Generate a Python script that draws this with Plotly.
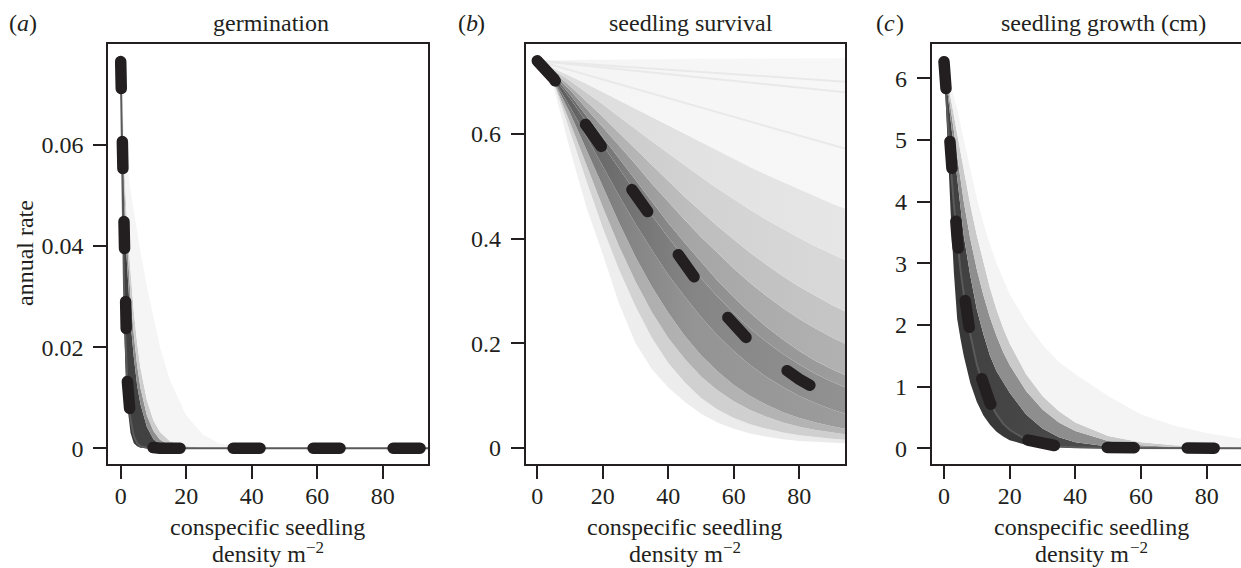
import plotly.graph_objects as go

# ---------------- data ----------------
x_ticks = [0, 20, 40, 60, 80]

# (a) germination
a_x = [0, 0.5, 1, 1.5, 2, 3, 4, 5, 6, 8, 10, 12, 15, 20, 25, 30, 40, 60, 90, 95]
a_mean = [0.0765, 0.0495, 0.032, 0.021, 0.0135, 0.0057, 0.0024, 0.0010, 0.0004, 0.0001,
          0, 0, 0, 0, 0, 0, 0, 0, 0, 0]
a_low = [0.0765, 0.044, 0.025, 0.0145, 0.0085, 0.003, 0.001, 0.0004, 0.0001, 0,
         0, 0, 0, 0, 0, 0, 0, 0, 0, 0]
a_q80 = [0.0765, 0.060, 0.049, 0.041, 0.035, 0.025, 0.018, 0.0125, 0.0088, 0.0042,
         0.0018, 0.0007, 0.0002, 0, 0, 0, 0, 0, 0, 0]
a_q90 = [0.0765, 0.063, 0.053, 0.0455, 0.0395, 0.030, 0.0225, 0.0165, 0.012, 0.0065,
         0.0034, 0.0017, 0.0006, 0.0001, 0, 0, 0, 0, 0, 0]
a_q95 = [0.0765, 0.066, 0.057, 0.050, 0.044, 0.035, 0.027, 0.021, 0.016, 0.0095,
         0.0055, 0.0032, 0.0014, 0.0004, 0.0001, 0, 0, 0, 0, 0]
a_max = [0.0765, 0.069, 0.063, 0.059, 0.056, 0.051, 0.047, 0.043, 0.039, 0.032,
         0.026, 0.020, 0.0135, 0.0065, 0.0028, 0.001, 0.0002, 0, 0, 0]
a_yticks = [0, 0.02, 0.04, 0.06]
a_yticklabels = ["0", "0.02", "0.04", "0.06"]

# (b) seedling survival
b_x = [0, 5, 10, 15, 20, 25, 30, 35, 40, 45, 50, 55, 60, 65, 70, 75, 80, 85, 90, 95]
b_mean = [0.740, 0.706, 0.660, 0.615, 0.577, 0.530, 0.482, 0.435, 0.390, 0.349,
          0.308, 0.271, 0.235, 0.202, 0.175, 0.151, 0.131, 0.113, 0.098, 0.085]
b_min = [0.740, 0.690, 0.570, 0.460, 0.370, 0.275, 0.200, 0.150, 0.115, 0.088,
         0.065, 0.048, 0.036, 0.027, 0.021, 0.016, 0.013, 0.011, 0.009, 0.008]
b_q10 = [0.740, 0.698, 0.605, 0.510, 0.420, 0.340, 0.270, 0.210, 0.162, 0.125,
         0.095, 0.073, 0.057, 0.045, 0.036, 0.029, 0.024, 0.020, 0.017, 0.015]
b_q20 = [0.740, 0.700, 0.622, 0.540, 0.460, 0.385, 0.318, 0.259, 0.210, 0.170,
         0.136, 0.110, 0.089, 0.072, 0.059, 0.048, 0.040, 0.034, 0.029, 0.025]
b_q30 = [0.740, 0.703, 0.640, 0.570, 0.500, 0.430, 0.365, 0.308, 0.258, 0.214,
         0.177, 0.146, 0.120, 0.099, 0.082, 0.068, 0.057, 0.048, 0.041, 0.035]
b_q42 = [0.740, 0.705, 0.652, 0.595, 0.540, 0.482, 0.428, 0.378, 0.331, 0.289,
         0.250, 0.215, 0.185, 0.158, 0.135, 0.116, 0.099, 0.085, 0.073, 0.063]
b_q58 = [0.740, 0.709, 0.668, 0.624, 0.580, 0.534, 0.489, 0.444, 0.402, 0.362,
         0.324, 0.289, 0.257, 0.228, 0.202, 0.179, 0.159, 0.141, 0.126, 0.113]
b_q65 = [0.740, 0.712, 0.675, 0.635, 0.595, 0.553, 0.512, 0.470, 0.430, 0.392,
         0.355, 0.320, 0.288, 0.258, 0.231, 0.207, 0.185, 0.166, 0.150, 0.136]
b_q75 = [0.740, 0.715, 0.684, 0.649, 0.614, 0.578, 0.542, 0.505, 0.470, 0.436,
         0.403, 0.372, 0.343, 0.315, 0.290, 0.267, 0.246, 0.228, 0.211, 0.196]
b_q85 = [0.740, 0.718, 0.692, 0.663, 0.633, 0.602, 0.571, 0.540, 0.510, 0.480,
         0.452, 0.424, 0.398, 0.373, 0.350, 0.328, 0.308, 0.290, 0.273, 0.258]
b_q90 = [0.740, 0.722, 0.702, 0.680, 0.657, 0.633, 0.609, 0.586, 0.563, 0.540,
         0.518, 0.496, 0.475, 0.455, 0.436, 0.418, 0.401, 0.385, 0.370, 0.356]
b_q95 = [0.740, 0.726, 0.711, 0.696, 0.680, 0.664, 0.648, 0.632, 0.616, 0.600,
         0.584, 0.568, 0.552, 0.537, 0.522, 0.508, 0.494, 0.480, 0.467, 0.455]
b_max = [0.740, 0.741, 0.741, 0.742, 0.742, 0.742, 0.743, 0.743, 0.743, 0.744,
         0.744, 0.744, 0.744, 0.745, 0.745, 0.745, 0.745, 0.745, 0.745, 0.745]
b_faint_x = [0, 94]
b_faint_start = 0.740
b_faint_end = [0.700, 0.680, 0.572]
b_yticks = [0, 0.2, 0.4, 0.6]
b_yticklabels = ["0", "0.2", "0.4", "0.6"]

# (c) seedling growth (cm)
c_x = [0, 1, 2, 3, 4, 5, 6, 8, 10, 12, 14, 16, 18, 20, 25, 30, 35, 40, 50, 60, 70, 80, 90, 95]
c_mean = [6.27, 5.35, 4.60, 3.95, 3.40, 2.90, 2.50, 1.85, 1.36, 1.00, 0.74, 0.55,
          0.40, 0.30, 0.14, 0.065, 0.030, 0.015, 0.003, 0.001, 0, 0, 0, 0]
c_min = [6.27, 4.95, 3.85, 2.85, 2.10, 1.78, 1.50, 1.06, 0.75, 0.53, 0.38, 0.27,
         0.19, 0.13, 0.055, 0.024, 0.010, 0.004, 0.001, 0, 0, 0, 0, 0]
c_q80 = [6.27, 5.80, 5.30, 4.80, 4.30, 3.85, 3.45, 2.80, 2.25, 1.85, 1.50, 1.25,
         1.07, 0.90, 0.55, 0.32, 0.18, 0.10, 0.030, 0.010, 0.003, 0.001, 0, 0]
c_q90 = [6.27, 5.92, 5.55, 5.15, 4.75, 4.37, 4.00, 3.40, 2.90, 2.48, 2.12, 1.82,
         1.56, 1.35, 0.93, 0.63, 0.42, 0.28, 0.12, 0.05, 0.02, 0.008, 0.003, 0.002]
c_q95 = [6.27, 6.00, 5.70, 5.40, 5.10, 4.80, 4.50, 3.95, 3.45, 3.00, 2.60, 2.25,
         1.95, 1.70, 1.20, 0.85, 0.60, 0.42, 0.20, 0.10, 0.05, 0.025, 0.012, 0.009]
c_max = [6.27, 6.10, 5.90, 5.70, 5.50, 5.25, 5.00, 4.50, 4.05, 3.65, 3.30, 3.00,
         2.75, 2.50, 2.05, 1.68, 1.40, 1.20, 0.85, 0.55, 0.37, 0.25, 0.16, 0.13]
c_yticks = [0, 1, 2, 3, 4, 5, 6]
c_yticklabels = ["0", "1", "2", "3", "4", "5", "6"]

panel_titles = ["germination", "seedling survival", "seedling growth (cm)"]
panel_letters = ["a", "b", "c"]
y_title = "annual rate"
x_title_1 = "conspecific seedling"
x_title_2 = "density m"
x_title_sup = "\u22122"

# ---------------- figure ----------------
W, H = 1241, 568
FONT = "Liberation Serif"
FS = 24
INK = "#231f20"


def px(v):
    return v / W


def py(v):
    return 1 - v / H


fig = go.Figure()


def add_bands(xs, curves, fills, xa, ya):
    # curves ascending; fill between consecutive curves.
    # a fill is either a colour or a list of colours graded left -> right
    fig.add_trace(go.Scatter(x=xs, y=curves[0], mode="lines", line=dict(width=0),
                             hoverinfo="skip", showlegend=False, xaxis=xa, yaxis=ya))
    for cv, f in zip(curves[1:], fills):
        kw = {}
        if isinstance(f, (list, tuple)):
            n = len(f) - 1
            kw["fillgradient"] = dict(type="horizontal", start=xs[0], stop=xs[-1],
                                      colorscale=[[i / n, c] for i, c in enumerate(f)])
        else:
            kw["fillcolor"] = f
        fig.add_trace(go.Scatter(x=xs, y=cv, mode="lines", line=dict(width=0),
                                 fill="tonexty", hoverinfo="skip",
                                 showlegend=False, xaxis=xa, yaxis=ya, **kw))


def add_mean(xs, ys, xa, ya, thin=True):
    if thin:
        fig.add_trace(go.Scatter(x=xs, y=ys, mode="lines",
                                 line=dict(color="#5a5a5a", width=2),
                                 hoverinfo="skip", showlegend=False, xaxis=xa, yaxis=ya))
    fig.add_trace(go.Scatter(x=xs, y=ys, mode="lines",
                             line=dict(color=INK, width=11.5, dash="27px,53px"),
                             hoverinfo="skip", showlegend=False, xaxis=xa, yaxis=ya))


# panel a
add_bands(a_x, [a_low, a_mean, a_q80, a_q90, a_q95, a_max],
          ["#383838", ["#404040", "#4a4a4a", "#5a5a5a"], "#8e8e8e", "#cdcdcd", "#f5f5f5"],
          "x", "y")
add_mean(a_x, a_mean, "x", "y")

# panel b
add_bands(b_x,
          [b_min, b_q10, b_q20, b_q30, b_q42, b_q58, b_q65, b_q75, b_q85, b_q90, b_q95, b_max],
          [["#f0f0f0", "#ececec", "#eaeaea"],
           ["#d6d6d6", "#d0d0d0", "#cfcfcf"],
           ["#a8a8a8", "#b2b2b2", "#b4b4b4"],
           ["#6e6e6e", "#949494", "#9c9c9c"],
           ["#585858", "#858585", "#929292"],
           ["#646464", "#8e8e8e", "#9e9e9e"],
           ["#868686", "#a6a6a6", "#b2b2b2"],
           ["#a6a6a6", "#bebebe", "#c6c6c6"],
           ["#c6c6c6", "#d2d2d2", "#d9d9d9"],
           ["#dcdcdc", "#e2e2e2", "#e6e6e6"],
           ["#f4f4f4", "#f6f6f6", "#f7f7f7"]],
          "x2", "y2")
for v in b_faint_end:
    fig.add_trace(go.Scatter(x=b_faint_x, y=[b_faint_start, v], mode="lines",
                             line=dict(color="#e9e9e9", width=2),
                             hoverinfo="skip", showlegend=False, xaxis="x2", yaxis="y2"))
add_mean(b_x, b_mean, "x2", "y2", thin=False)

# panel c
add_bands(c_x, [c_min, c_mean, c_q80, c_q90, c_q95, c_max],
          ["#383838", ["#404040", "#4c4c4c", "#5a5a5a"], "#8e8e8e", "#cacaca", "#f4f4f4"],
          "x3", "y3")
add_mean(c_x, c_mean, "x3", "y3")

tickfont = dict(family=FONT, size=FS, color=INK)
y_dom = [py(464), py(44)]

common_x = dict(tickmode="array", tickvals=x_ticks, ticktext=[str(t) for t in x_ticks],
                ticks="outside", ticklen=13, tickwidth=2, tickcolor=INK,
                showline=True, linecolor=INK, linewidth=2, mirror=True,
                showgrid=False, zeroline=False, tickfont=tickfont,
                ticklabelstandoff=-4)
common_y = dict(ticks="outside", ticklen=13, tickwidth=2, tickcolor=INK,
                showline=True, linecolor=INK, linewidth=2, mirror=True,
                showgrid=False, zeroline=False, tickfont=tickfont,
                ticklabelstandoff=5, tickmode="array")

fig.update_layout(
    width=W, height=H,
    margin=dict(l=0, r=0, t=0, b=0),
    paper_bgcolor="white", plot_bgcolor="white",
    showlegend=False,
    xaxis=dict(domain=[px(108.3), px(428.3)], range=[-3.79, 93.92], anchor="y", **common_x),
    yaxis=dict(domain=y_dom, range=[-0.00311, 0.07998], anchor="x",
               tickvals=a_yticks, ticktext=a_yticklabels, **common_y),
    xaxis2=dict(domain=[px(525.7), px(845)], range=[-3.54, 93.95], anchor="y2", **common_x),
    yaxis2=dict(domain=y_dom, range=[-0.0312, 0.7722], anchor="x2",
                tickvals=b_yticks, ticktext=b_yticklabels, **common_y),
    xaxis3=dict(domain=[px(931.7), 1.0], range=[-3.75, 90.44], anchor="y3", **common_x),
    yaxis3=dict(domain=y_dom, range=[-0.2546, 6.556], anchor="x3",
                tickvals=c_yticks, ticktext=c_yticklabels,
                **{**common_y, "mirror": False}),
)


def note(text, x, y, xanchor="center", size=FS, style="normal", angle=0):
    return dict(text=text, x=px(x), y=py(y), xref="paper", yref="paper",
                xanchor=xanchor, yanchor="middle", showarrow=False,
                borderpad=0, borderwidth=0, textangle=angle,
                font=dict(family=FONT, size=size, color=INK, style=style))


annots = []
title_x = [270.8, 690.8, 1103.3]
letter_left = [9.3, 457.7, 876.0]
xlab_x = [267.5, 684.7, 1091]
for i in range(3):
    annots.append(note(panel_titles[i], title_x[i], 23))
    lx = letter_left[i]
    annots.append(note("(", lx, 23, xanchor="left"))
    annots.append(note(panel_letters[i], lx + 8.0, 23, xanchor="left", style="italic"))
    annots.append(note(")", lx + 19.5, 23, xanchor="left"))
    annots.append(note(x_title_1, xlab_x[i], 527))
    annots.append(note(x_title_2, xlab_x[i] + 38.0, 554, xanchor="right"))
    annots.append(note(x_title_sup, xlab_x[i] + 38.5, 547, xanchor="left", size=17))
annots.append(note(y_title, 25, 253, angle=-90))
fig.update_layout(annotations=annots)

post = """
document.documentElement.style.margin = '0';
document.body.style.margin = '0';
document.body.style.padding = '0';
document.body.style.overflow = 'hidden';
var gd = document.getElementById('{plot_id}');
gd.querySelectorAll('path.js-line').forEach(function(p){
  var w = parseFloat(p.style.strokeWidth || '0');
  if (w > 8) { p.style.strokeLinecap = 'round'; p.style.strokeLinejoin = 'round'; }
});
"""
fig.write_html("out.html", post_script=post, config={"displayModeBar": False})
